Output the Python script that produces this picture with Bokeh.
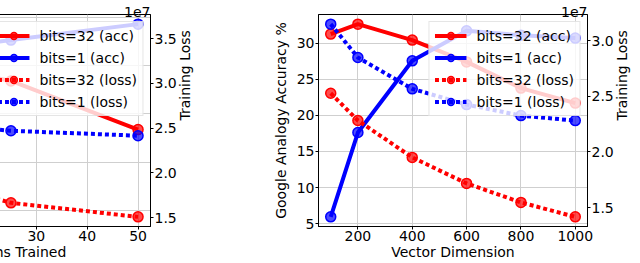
import math
from bokeh.plotting import figure
from bokeh.models import (Range1d, LinearAxis, FixedTicker, NumeralTickFormatter,
                          Legend, LegendItem, Grid, Title)
from bokeh.layouts import row
from bokeh.embed import file_html
from bokeh.resources import INLINE

FONT = "DejaVu Sans"
RED = "#ff0000"
BLUE = "#0000ff"

# ---------------- data: left subplot (epochs trained) ----------------
epochs = [1, 5, 10, 25, 50]
acc_ep_32 = [31.0, 35.8, 36.0, 35.36, 33.35]
acc_ep_1 = [29.74, 35.5, 36.65, 37.05, 37.71]
loss_ep_32 = [3.664, 2.30, 1.90, 1.665, 1.508]   # x 1e7
loss_ep_1 = [3.45, 2.80, 2.55, 2.471, 2.416]     # x 1e7
epoch_ticks = [0, 10, 20, 30, 40, 50]
acc_ep_ticks = [30, 32, 34, 36, 38]
loss_ep_ticks = [1.5, 2.0, 2.5, 3.0, 3.5]

# ---------------- data: right subplot (vector dimension) ----------------
dims = [100, 200, 400, 600, 800, 1000]
acc_dim_32 = [31.25, 32.63, 30.42, 27.4, 23.77, 21.7]
acc_dim_1 = [5.94, 17.62, 27.55, 31.7, 31.1, 30.7]
loss_dim_32 = [2.528, 2.283, 1.951, 1.717, 1.546, 1.416]  # x 1e7
loss_dim_1 = [3.15, 2.85, 2.568, 2.426, 2.327, 2.282]     # x 1e7
dim_ticks = [200, 400, 600, 800, 1000]
acc_dim_ticks = [5, 10, 15, 20, 25, 30]
loss_dim_ticks = [1.5, 2.0, 2.5, 3.0]

labels = ["bits=32 (acc)", "bits=1 (acc)", "bits=32 (loss)", "bits=1 (loss)"]


def padded(vals, frac=0.05):
    lo, hi = min(vals), max(vals)
    d = (hi - lo) * frac
    return lo - d, hi + d


H = 263
TOP, BOTTOM = 14, 37
FRAME_W = 274
HIDDEN_LEFT = 124          # part of the left subplot that lies beyond the page edge
P1_RIGHT = 60
P1_W = FRAME_W + P1_RIGHT
P2_LEFT = 108
P2_W = 640 - (P1_W - HIDDEN_LEFT)


def style_axis(ax, label_standoff=0):
    ax.axis_line_color = "black"
    ax.axis_line_width = 1
    ax.major_tick_line_color = "black"
    ax.major_tick_out = 3
    ax.major_tick_in = 0
    ax.minor_tick_line_color = None
    ax.major_label_text_font = FONT
    ax.major_label_text_font_size = "14px"
    ax.major_label_text_color = "black"
    ax.major_label_standoff = 1
    ax.axis_label_text_font = FONT
    ax.axis_label_text_font_size = "14px"
    ax.axis_label_text_font_style = "normal"
    ax.axis_label_text_color = "black"
    ax.axis_label_standoff = label_standoff


def add_grids(p, xt, yt):
    p.center = [r for r in p.center if not isinstance(r, Grid)]
    for dim, t in ((0, xt), (1, yt)):
        p.add_layout(Grid(dimension=dim, ticker=FixedTicker(ticks=t),
                          grid_line_color="#cfcfcf", grid_line_width=1))


def draw_series(p, x, a32, a1, l32, l1):
    rends = []
    specs = [(a32, RED, "solid", "default"), (a1, BLUE, "solid", "default"),
             (l32, RED, "4 3", "loss"), (l1, BLUE, "4 3", "loss")]
    for ys, col, dash, rng in specs:
        ln = p.line(x, ys, line_color=col, line_width=4, line_dash=dash,
                    line_join="round", y_range_name=rng)
        sc = p.scatter(x, ys, size=10, fill_color=col, fill_alpha=0.7,
                       line_color=col, line_width=1.5, y_range_name=rng)
        rends.append([ln, sc])
    items = [LegendItem(label=lab, renderers=r) for lab, r in zip(labels, rends)]
    lg = Legend(items=items, location="top_right", margin=7, padding=5,
                spacing=5, glyph_width=32, glyph_height=17, label_height=17,
                label_standoff=10, label_text_font=FONT,
                label_text_font_size="14px", label_text_color="black",
                background_fill_color="white", background_fill_alpha=0.8,
                border_line_color="#cccccc", border_line_width=1)
    p.add_layout(lg)


def right_loss_axis(p, ticks):
    ax = LinearAxis(y_range_name="loss", ticker=FixedTicker(ticks=ticks),
                    formatter=NumeralTickFormatter(format="0.0"))
    style_axis(ax, label_standoff=5)
    ax.axis_label = "Training Loss"
    try:
        ax.axis_label_orientation = math.pi / 2
    except Exception:
        pass
    p.add_layout(ax, "right")


def exp_title(p):
    # the "1e7" offset text of the loss axis, right-aligned over the frame
    p.title = Title(text="1e7", align="right", vertical_align="bottom",
                    standoff=-5, offset=0, text_font=FONT,
                    text_font_size="14px", text_font_style="normal",
                    text_color="black")


# ---------------- left subplot (its left part is beyond the page edge) ----------------
ep_rng = padded(epochs)
acc1 = padded(acc_ep_32 + acc_ep_1)
loss1 = padded(loss_ep_32 + loss_ep_1)
p1 = figure(width=P1_W, height=H, x_range=Range1d(*ep_rng),
            y_range=Range1d(*acc1), y_axis_location=None,
            output_backend="svg", toolbar_location=None,
            min_border_left=0, min_border_right=P1_RIGHT,
            min_border_top=TOP, min_border_bottom=BOTTOM)
p1.outline_line_color = "black"
p1.outline_line_width = 1
p1.outline_line_alpha = 1
p1.extra_y_ranges = {"loss": Range1d(*loss1)}
p1.xaxis.ticker = FixedTicker(ticks=epoch_ticks)
style_axis(p1.xaxis[0])
p1.xaxis.axis_label = "Epochs Trained"
add_grids(p1, epoch_ticks, acc_ep_ticks)
draw_series(p1, epochs, acc_ep_32, acc_ep_1, loss_ep_32, loss_ep_1)
right_loss_axis(p1, loss_ep_ticks)
exp_title(p1)

# ---------------- right subplot ----------------
dim_rng = padded(dims)
acc2 = padded(acc_dim_32 + acc_dim_1)
loss2 = padded(loss_dim_32 + loss_dim_1)
p2 = figure(width=P2_W, height=H, x_range=Range1d(*dim_rng),
            y_range=Range1d(*acc2), output_backend="svg",
            toolbar_location=None, min_border_left=P2_LEFT,
            min_border_right=P2_W - P2_LEFT - FRAME_W,
            min_border_top=TOP, min_border_bottom=BOTTOM)
p2.outline_line_color = "black"
p2.outline_line_width = 1
p2.outline_line_alpha = 1
p2.extra_y_ranges = {"loss": Range1d(*loss2)}
p2.xaxis.ticker = FixedTicker(ticks=dim_ticks)
p2.yaxis.ticker = FixedTicker(ticks=acc_dim_ticks)
style_axis(p2.xaxis[0])
style_axis(p2.yaxis[0], label_standoff=5)
p2.xaxis.axis_label = "Vector Dimension"
p2.yaxis.axis_label = "Google Analogy Accuracy %"
add_grids(p2, dim_ticks, acc_dim_ticks)
draw_series(p2, dims, acc_dim_32, acc_dim_1, loss_dim_32, loss_dim_1)
right_loss_axis(p2, loss_dim_ticks)
exp_title(p2)

layout = row(p1, p2, styles={"margin-left": f"-{HIDDEN_LEFT}px"})

open("out.html", "w").write(file_html(layout, INLINE))
